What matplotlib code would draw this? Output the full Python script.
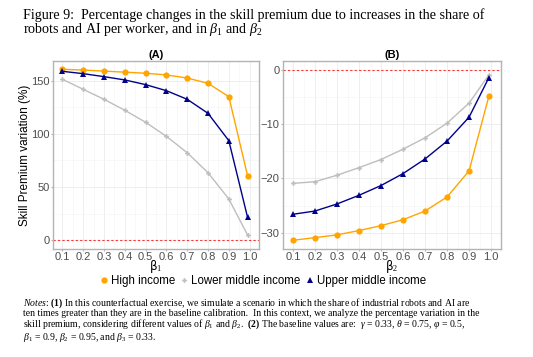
import numpy as np
import matplotlib
matplotlib.use('Agg')
import matplotlib.pyplot as plt
from matplotlib.lines import Line2D
from matplotlib.ticker import MultipleLocator

plt.rcParams['font.family'] = 'Liberation Sans'
plt.rcParams['mathtext.fontset'] = 'custom'
plt.rcParams['mathtext.rm'] = 'Liberation Serif'
plt.rcParams['mathtext.it'] = 'Liberation Serif:italic'
plt.rcParams['mathtext.bf'] = 'Liberation Serif:bold'

# beta values used in both panels
betas = [0.1, 0.2, 0.3, 0.4, 0.5, 0.6, 0.7, 0.8, 0.9, 0.99]

# Panel A: varying beta_1
a_high = [160.7, 160.0, 159.0, 158.0, 157.0, 155.4, 152.5, 147.5, 135.0, 60.7]
a_lower = [151.3, 141.9, 132.5, 122.2, 110.9, 97.7, 82.3, 63.5, 38.8, 5.0]
a_upper = [158.8, 156.6, 153.8, 150.7, 146.3, 140.6, 132.5, 119.3, 93.6, 21.6]

# Panel B: varying beta_2
b_high = [-31.4, -30.9, -30.4, -29.6, -28.7, -27.6, -26.0, -23.4, -18.6, -4.8]
b_lower = [-20.9, -20.6, -19.4, -18.0, -16.5, -14.6, -12.5, -9.8, -6.1, -0.9]
b_upper = [-26.6, -26.0, -24.7, -23.1, -21.3, -19.1, -16.4, -13.1, -8.7, -1.4]

xticks = [0.1, 0.2, 0.3, 0.4, 0.5, 0.6, 0.7, 0.8, 0.9, 1.0]
series = ['High income', 'Lower middle income', 'Upper middle income']
colors = ['#FFA500', '#BEBEBE', '#00008B']
markers = ['o', 'P', '^']
msizes = [4.5, 3.5, 5]

W, H = 533, 357
fig = plt.figure(figsize=(W / 100, H / 100), dpi=100)


def px(x0, y0, x1, y1):
    return [x0 / W, 1 - y1 / H, (x1 - x0) / W, (y1 - y0) / H]


def style_ax(ax, ylim, ymajor, yminor):
    ax.set_xlim(0.055, 1.045)
    ax.set_ylim(*ylim)
    ax.set_xticks(xticks)
    ax.set_xticklabels([f'{t:.1f}' for t in xticks])
    ax.xaxis.set_minor_locator(MultipleLocator(0.05))
    ax.yaxis.set_major_locator(MultipleLocator(ymajor))
    ax.yaxis.set_minor_locator(MultipleLocator(yminor))
    ax.grid(which='major', color='#ebebeb', linewidth=0.6)
    ax.grid(which='minor', color='#f4f4f4', linewidth=0.4)
    ax.set_axisbelow(True)
    for s in ax.spines.values():
        s.set_color('#b3b3b3')
        s.set_linewidth(1.0)
    ax.tick_params(which='major', length=1.5, color='#b3b3b3', labelsize=8,
                   labelcolor='#4d4d4d', pad=1)
    ax.tick_params(axis='x', pad=0.3)
    ax.tick_params(which='minor', length=0)
    ax.axhline(0, color='#ff3333', linestyle=(0, (2, 2)), linewidth=0.8,
               zorder=1)


axA = fig.add_axes(px(53, 61, 259, 249))
for vals, c, m, ms in zip([a_high, a_lower, a_upper], colors, markers, msizes):
    axA.plot(betas, vals, color=c, marker=m, markersize=ms, linewidth=1.0,
             markeredgewidth=0)
style_ax(axA, (-8.2, 168.5), 50, 25)
axA.set_yticks([0, 50, 100, 150])
axA.set_xlabel('β$_1$', fontsize=8.5, labelpad=-2.5, family='DejaVu Sans')
axA.set_ylabel('Skill Premium variation (%)', fontsize=8.5, labelpad=0)
axA.set_title('(A)', fontsize=8, fontweight='bold', pad=2)

axB = fig.add_axes(px(283, 61, 501, 249))
for vals, c, m, ms in zip([b_high, b_lower, b_upper], colors, markers, msizes):
    axB.plot(betas, vals, color=c, marker=m, markersize=ms, linewidth=1.0,
             markeredgewidth=0)
style_ax(axB, (-33.0, 1.66), 10, 5)
axB.set_yticks([-30, -20, -10, 0])
axB.set_xlabel('β$_2$', fontsize=8.5, labelpad=-2.5, family='DejaVu Sans')
axB.set_title('(B)', fontsize=8, fontweight='bold', pad=2)

handles = [Line2D([], [], color=c, marker=m, markersize=ms, linestyle='',
                  markeredgewidth=0)
           for c, m, ms in zip(colors, markers, msizes)]
fig.legend(handles, series, loc='center', bbox_to_anchor=(262 / W, 1 - 281 / H),
           ncol=3, frameon=False, fontsize=8.3, handletextpad=0.1,
           columnspacing=0.3, handlelength=1.0, borderpad=0.1)

# caption
fig.text(23 / W, 1 - 15 / H,
         'Figure 9:  Percentage changes in the skill premium due to increases in the share of',
         fontsize=10.1, family='Liberation Serif', va='center', ha='left')
fig.text(23 / W, 1 - 30 / H,
         r'robots and AI per worker, and in $\beta_1$ and $\beta_2$',
         fontsize=10.1, family='Liberation Serif', va='center', ha='left')

notes = [
    r'$\it{Notes}$: $\bf{(1)}$ In this counterfactual exercise, we simulate a scenario in which the share of industrial robots and AI are',
    'ten times greater than they are in the baseline calibration.  In this context, we analyze the percentage variation in the',
    r'skill premium, considering different values of $\beta_1$ and $\beta_2$.  $\bf{(2)}$ The baseline values are:  $\gamma$ = 0.33, $\theta$ = 0.75, $\varphi$ = 0.5,',
    r'$\beta_1$ = 0.9, $\beta_2$ = 0.95, and $\beta_3$ = 0.33.',
]
fig.text(23 / W, 1 - 296 / H, '\n'.join(notes), fontsize=7.0,
         family='Liberation Serif', va='top', ha='left', linespacing=0.95)

fig.savefig('out.png', dpi=100)
